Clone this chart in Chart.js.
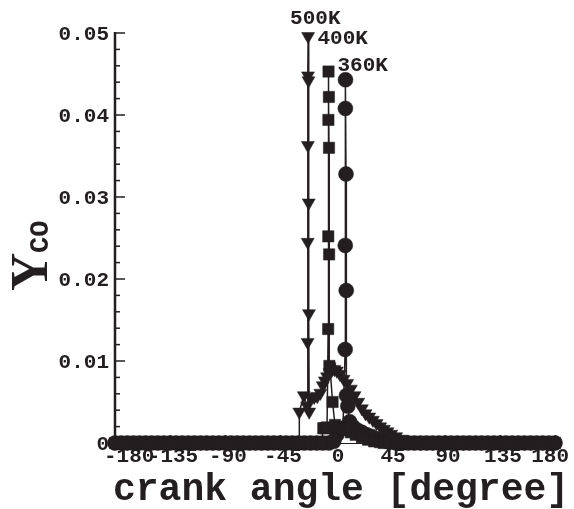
<!DOCTYPE html>
<html>
<head>
<meta charset="utf-8">
<script src="https://cdn.jsdelivr.net/npm/chart.js@4/dist/chart.umd.min.js"></script>
<style>
  html, body { margin: 0; padding: 0; background: #ffffff; }
  canvas { display: block; }
</style>
</head>
<body>
<canvas id="chart" width="574" height="509"></canvas>
<script>
// Axis ticks
const xTicks = [-180, -135, -90, -45, 0, 45, 90, 135, 180];
const yTicks = [0, 0.01, 0.02, 0.03, 0.04, 0.05];
const yTickLabels = ['0', '0.01', '0.02', '0.03', '0.04', '0.05'];
const caseNames = ['500K', '400K', '360K'];

// CO mass fraction vs crank angle, initial temperature 500 K
const angle500 = [-180, -175, -170, -165, -160, -155, -150, -145, -140, -135, -130, -125, -120, -115, -110,
  -105, -100, -95, -90, -85, -80, -75, -70, -65, -60, -55, -50, -45, -40, -35, -31,
  -29.4, -29.2, -25.5, -22.8, -22.4, -22.3, -22.2, -22.1, -22.0, -21.7, -21.5, -21.3, -21.1, -19.6,
  -17, -14.5, -12, -10, -8.3, -6.5, -4.5, -2.5, -0.5, 1.5, 4, 7, 10, 13, 16, 19, 22, 25, 28, 31, 34,
  37, 40, 43, 46, 50, 55, 60, 65, 70, 75, 80, 85, 90, 95, 100, 105, 110, 115, 120, 125, 130, 135,
  140, 145, 150, 155, 160, 165, 170, 175, 180];
const yco500 = [0, 0, 0, 0, 0, 0, 0, 0, 0, 0, 0, 0, 0, 0, 0,
  0, 0, 0, 0, 0, 0, 0, 0, 0, 0, 0, 0, 0, 0, 0, 0.0001,
  0.0002, 0.0038, 0.0058, 0.0045, 0.0123, 0.0245, 0.0363, 0.0448, 0.0496, 0.0442, 0.0293, 0.0158, 0.0038, 0.0055,
  0.0056, 0.0057, 0.0061, 0.0070, 0.0076, 0.0081, 0.0086, 0.0089, 0.0090, 0.0088, 0.0084, 0.0078, 0.0073, 0.0066, 0.0058, 0.0050, 0.0042, 0.0036, 0.0032, 0.0028, 0.0024,
  0.0020, 0.0017, 0.0014, 0.0011, 0.0008, 0.0005, 0.0003, 0.0001, 0, 0, 0, 0, 0, 0, 0, 0, 0, 0, 0, 0, 0, 0,
  0, 0, 0, 0, 0, 0, 0, 0, 0];

// Initial temperature 400 K
const angle400 = [-180, -175, -170, -165, -160, -155, -150, -145, -140, -135, -130, -125, -120, -115, -110,
  -105, -100, -95, -90, -85, -80, -75, -70, -65, -60, -55, -50, -45, -40, -35, -30, -25, -20, -15,
  -11, -9.6, -8, -6.5, -5.6, -5.5, -5.4, -5.3, -5.0, -4.9, -4.8, -4.6, -4, -2, 0, 3, 6, 9, 13, 17, 22,
  27, 32, 37, 40, 45, 50, 55, 60, 65, 70, 75, 80, 85, 90, 95, 100, 105, 110, 115, 120, 125, 130, 135,
  140, 145, 150, 155, 160, 165, 170, 175, 180];
const yco400 = [0, 0, 0, 0, 0, 0, 0, 0, 0, 0, 0, 0, 0, 0, 0,
  0, 0, 0, 0, 0, 0, 0, 0, 0, 0, 0, 0, 0, 0, 0, 0, 0, 0, 0,
  0.0001, 0.0018, 0.0018, 0.0019, 0.0139, 0.0252, 0.0394, 0.0453, 0.0422, 0.0360, 0.0230, 0.0094, 0.0091, 0.0050, 0.0022, 0.0019, 0.0018, 0.0016, 0.0013, 0.0010, 0.0007,
  0.0004, 0.0002, 0.0001, 0, 0, 0, 0, 0, 0, 0, 0, 0, 0, 0, 0, 0, 0, 0, 0, 0, 0, 0, 0,
  0, 0, 0, 0, 0, 0, 0, 0, 0];

// Initial temperature 360 K
const angle360 = [-180, -175, -170, -165, -160, -155, -150, -145, -140, -135, -130, -125, -120, -115, -110,
  -105, -100, -95, -90, -85, -80, -75, -70, -65, -60, -55, -50, -45, -40, -35, -30, -25, -20, -15, -10, -5,
  -1, 1.5, 4, 6.5, 8.3, 8.4, 8.5, 8.6, 9.0, 9.2, 9.4, 10.5, 12, 14.5, 18, 22, 26, 30, 35, 40, 45,
  50, 55, 60, 65, 70, 75, 80, 85, 90, 95, 100, 105, 110, 115, 120, 125, 130, 135,
  140, 145, 150, 155, 160, 165, 170, 175, 180];
const yco360 = [0, 0, 0, 0, 0, 0, 0, 0, 0, 0, 0, 0, 0, 0, 0,
  0, 0, 0, 0, 0, 0, 0, 0, 0, 0, 0, 0, 0, 0, 0, 0, 0, 0, 0, 0, 0,
  0.0002, 0.0010, 0.0016, 0.0018, 0.0114, 0.0241, 0.0408, 0.0443, 0.0328, 0.0186, 0.0058, 0.0045, 0.0026, 0.0020, 0.0016, 0.0013, 0.0010, 0.0008, 0.0005, 0.0003, 0.0001,
  0, 0, 0, 0, 0, 0, 0, 0, 0, 0, 0, 0, 0, 0, 0, 0, 0, 0,
  0, 0, 0, 0, 0, 0, 0, 0, 0];

const INK = '#231f20';
const MONO = '"Liberation Mono", "DejaVu Sans Mono", monospace';
const SERIF = '"Liberation Serif", "DejaVu Serif", serif';

function toPoints(xs, ys) {
  return xs.map((x, i) => ({ x: x, y: ys[i] }));
}

function peakOf(xs, ys) {
  let k = 0;
  ys.forEach((v, i) => { if (v > ys[k]) k = i; });
  return { x: xs[k], y: ys[k] };
}

const series = [
  { name: caseNames[0], xs: angle500, ys: yco500, style: 'triangle', radius: 7.5, rotation: 180, dx: -18, dy: -12 },
  { name: caseNames[1], xs: angle400, ys: yco400, style: 'rect', radius: 8, rotation: 0, dx: -11, dy: -28 },
  { name: caseNames[2], xs: angle360, ys: yco360, style: 'circle', radius: 7.5, rotation: 0, dx: -8, dy: -9 }
];

// Axes, inward tick marks, tick labels, titles and case labels
const framePlugin = {
  id: 'frame',
  beforeDatasetsDraw(chart) {
    const ctx = chart.ctx;
    const xs = chart.scales.x, ys = chart.scales.y;
    const a = chart.chartArea;
    ctx.save();
    ctx.strokeStyle = INK;
    ctx.lineWidth = 1;
    ctx.beginPath();
    ctx.moveTo(a.left, a.bottom + 0.5);
    ctx.lineTo(a.right, a.bottom + 0.5);
    ctx.stroke();
    // x ticks
    ctx.lineWidth = 1.5;
    xTicks.forEach(v => {
      const px = Math.round(xs.getPixelForValue(v)) + 0.5;
      ctx.beginPath();
      ctx.moveTo(px, a.bottom);
      ctx.lineTo(px, a.bottom - 8);
      ctx.stroke();
    });
    // y ticks: majors and four minors between them
    for (let i = 0; i < yTicks.length; i++) {
      const py = ys.getPixelForValue(yTicks[i]);
      ctx.beginPath();
      ctx.moveTo(a.left, py);
      ctx.lineTo(a.left + 10, py);
      ctx.stroke();
      if (i < yTicks.length - 1) {
        const step = (yTicks[i + 1] - yTicks[i]) / 5;
        for (let m = 1; m < 5; m++) {
          const pm = ys.getPixelForValue(yTicks[i] + m * step);
          ctx.beginPath();
          ctx.moveTo(a.left, pm);
          ctx.lineTo(a.left + 5, pm);
          ctx.stroke();
        }
      }
    }
    // y axis line
    ctx.lineWidth = 2.5;
    ctx.beginPath();
    ctx.moveTo(a.left, a.top - 1);
    ctx.lineTo(a.left, a.bottom + 1);
    ctx.stroke();
    ctx.restore();
  },
  afterDraw(chart) {
    const ctx = chart.ctx;
    const xs = chart.scales.x, ys = chart.scales.y;
    const a = chart.chartArea;
    ctx.save();
    ctx.fillStyle = INK;
    ctx.font = 'bold 21px ' + MONO;
    // y tick labels
    ctx.textAlign = 'right';
    ctx.textBaseline = 'alphabetic';
    yTicks.forEach((v, i) => {
      ctx.fillText(yTickLabels[i], a.left - 6, ys.getPixelForValue(v) + 7);
    });
    // x tick labels
    xTicks.forEach((v, i) => {
      const px = xs.getPixelForValue(v);
      let x = px;
      if (i === 0) { ctx.textAlign = 'left'; x = px - 11; }
      else if (i === xTicks.length - 1) { ctx.textAlign = 'right'; x = px + 14; }
      else { ctx.textAlign = 'center'; x = px + 3; }
      ctx.fillText(String(v), x, a.bottom + 19);
    });
    // x title
    ctx.font = 'bold 38px ' + MONO;
    ctx.textAlign = 'left';
    ctx.fillText('crank angle [degree]', 113, 500);
    // y title: Y with subscript CO
    ctx.save();
    ctx.translate(47, 291);
    ctx.rotate(-Math.PI / 2);
    ctx.font = 'bold 53px ' + SERIF;
    ctx.textAlign = 'left';
    ctx.fillText('Y', 0, 0);
    ctx.font = 'bold 27px ' + MONO;
    ctx.fillText('CO', 38, 1);
    ctx.restore();
    // case labels next to each peak
    ctx.font = 'bold 21px ' + MONO;
    ctx.textAlign = 'left';
    series.forEach(s => {
      const p = peakOf(s.xs, s.ys);
      ctx.fillText(s.name, xs.getPixelForValue(p.x) + s.dx, ys.getPixelForValue(p.y) + s.dy);
    });
    ctx.restore();
  }
};

const datasets = series.map(s => ({
  label: s.name,
  data: toPoints(s.xs, s.ys),
  showLine: true,
  borderColor: INK,
  borderWidth: 1.5,
  backgroundColor: INK,
  pointBackgroundColor: INK,
  pointBorderColor: INK,
  pointBorderWidth: 0.5,
  pointStyle: s.style,
  pointRadius: s.radius,
  pointRotation: s.rotation,
  tension: 0,
  clip: false
}));

new Chart(document.getElementById('chart'), {
  type: 'scatter',
  data: { datasets: datasets },
  options: {
    responsive: false,
    animation: false,
    events: [],
    layout: { padding: { top: 33, right: 19, left: 0, bottom: 0 } },
    plugins: { legend: { display: false }, tooltip: { enabled: false } },
    scales: {
      x: {
        type: 'linear', min: -180, max: 180,
        ticks: { display: false, stepSize: 45 },
        grid: { display: false },
        border: { display: false },
        afterFit(scale) { scale.height = 66; }
      },
      y: {
        type: 'linear', min: 0, max: 0.05,
        ticks: { display: false, stepSize: 0.01 },
        grid: { display: false },
        border: { display: false },
        afterFit(scale) { scale.width = 115; }
      }
    }
  },
  plugins: [framePlugin]
});
</script>
</body>
</html>
